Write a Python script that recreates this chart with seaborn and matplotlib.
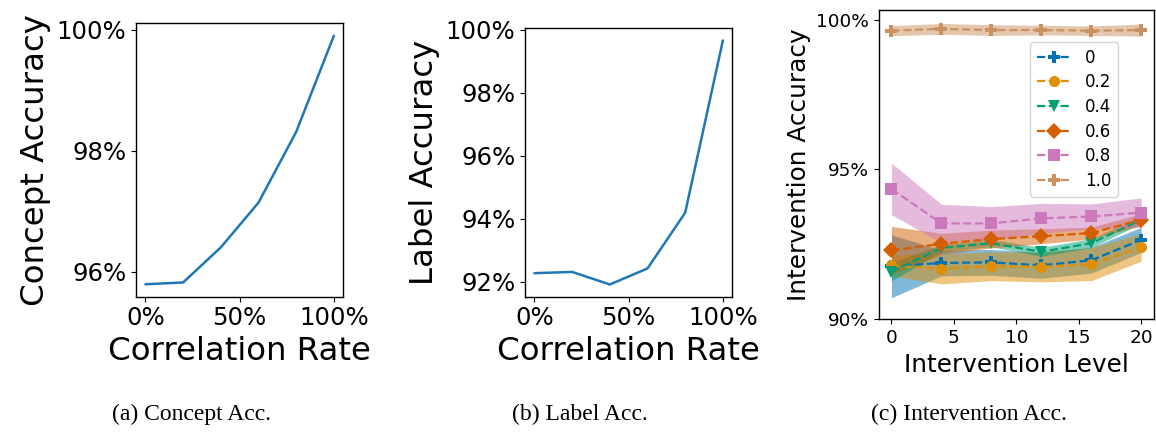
import numpy as np
import pandas as pd
import matplotlib
matplotlib.use("Agg")
import matplotlib.pyplot as plt
from matplotlib.ticker import PercentFormatter, MultipleLocator, FixedLocator
import seaborn as sns

# ---------------- data ----------------
corr_rates = [0.0, 0.2, 0.4, 0.6, 0.8, 1.0]
concept_acc = [95.79, 95.82, 96.40, 97.14, 98.31, 99.90]
label_acc = [92.27, 92.31, 91.91, 92.42, 94.19, 99.66]

interv_levels = [0, 4, 8, 12, 16, 20]
series_names = ["0", "0.2", "0.4", "0.6", "0.8", "1.0"]
mean_0 = [91.77, 91.88, 91.90, 91.80, 91.97, 92.65]
mean_02 = [91.80, 91.68, 91.77, 91.75, 91.84, 92.40]
mean_04 = [91.58, 92.38, 92.54, 92.25, 92.54, 93.32]
mean_06 = [92.30, 92.52, 92.68, 92.77, 92.88, 93.32]
mean_08 = [94.35, 93.20, 93.20, 93.37, 93.43, 93.56]
mean_10 = [99.63, 99.69, 99.65, 99.65, 99.63, 99.65]
std_0 = [1.05, 0.43, 0.43, 0.43, 0.43, 0.42]
std_02 = [0.35, 0.50, 0.48, 0.50, 0.55, 0.46]
std_04 = [0.30, 0.12, 0.12, 0.15, 0.15, 0.12]
std_06 = [0.80, 0.35, 0.30, 0.25, 0.20, 0.20]
std_08 = [0.86, 0.64, 0.56, 0.50, 0.42, 0.49]
std_10 = [0.17, 0.18, 0.18, 0.16, 0.16, 0.20]

panel_captions = ["(a) Concept Acc.", "(b) Label Acc.", "(c) Intervention Acc."]

# ---------------- style ----------------
sns.set_style("ticks")
plt.rcParams["font.family"] = ["DejaVu Sans"]
plt.rcParams["text.color"] = "black"
plt.rcParams["axes.labelcolor"] = "black"
plt.rcParams["xtick.color"] = "black"
plt.rcParams["ytick.color"] = "black"
plt.rcParams["axes.edgecolor"] = "black"

W, H = 1156, 432
fig = plt.figure(figsize=(W / 100, H / 100), dpi=100)

def box(l, t, r, b):
    return [l / W, 1 - b / H, (r - l) / W, (b - t) / H]

C_L, C_T, C_R, C_B = 879, 9.7, 1153.7, 319.3
ax_a = fig.add_axes(box(136, 23.3, 343.3, 296.7))
ax_b = fig.add_axes(box(525, 28.3, 732.3, 296.7))
ax_c = fig.add_axes(box(C_L, C_T, C_R, C_B))

line_color = "#1f77b4"
big_label = 23.3
big_tick = 17.6

# panel a
sns.lineplot(x=corr_rates, y=concept_acc, ax=ax_a, color=line_color, linewidth=1.8)
ax_a.set_xlabel("Correlation Rate", fontsize=big_label)
ax_a.set_ylabel("Concept Accuracy", fontsize=big_label)
ax_a.yaxis.set_major_locator(MultipleLocator(2))
ax_a.yaxis.set_major_formatter(PercentFormatter(xmax=100, decimals=0))

# panel b
sns.lineplot(x=corr_rates, y=label_acc, ax=ax_b, color=line_color, linewidth=1.8)
ax_b.set_xlabel("Correlation Rate", fontsize=big_label)
ax_b.set_ylabel("Label Accuracy", fontsize=big_label)
ax_b.yaxis.set_major_locator(MultipleLocator(2))
ax_b.yaxis.set_major_formatter(PercentFormatter(xmax=100, decimals=0))

for ax in (ax_a, ax_b):
    ax.xaxis.set_major_locator(FixedLocator([0, 0.5, 1.0]))
    ax.xaxis.set_major_formatter(PercentFormatter(xmax=1, decimals=0))
    ax.tick_params(labelsize=big_tick)
    ax.set_xlim(-0.05, 1.05)

# panel c
palette = sns.color_palette("colorblind")
means = [mean_0, mean_02, mean_04, mean_06, mean_08, mean_10]
stds = [std_0, std_02, std_04, std_06, std_08, std_10]
markers = ["P", "o", "v", "D", "s", "P"]
color_idx = [0, 1, 2, 3, 4, 5]
for name, m, s, mk, ci in zip(series_names, means, stds, markers, color_idx):
    c = palette[ci]
    m = np.array(m)
    s = np.array(s)
    ax_c.fill_between(interv_levels, m - s, m + s, color=c, alpha=0.5, linewidth=0)
    sns.lineplot(x=interv_levels, y=m, ax=ax_c, color=c, marker=mk, markersize=8,
                 linestyle="--", linewidth=1.6, label=name, markeredgewidth=0)

small_label = 17.8
small_tick = 13.3
ax_c.set_xlabel("Intervention Level", fontsize=small_label)
ax_c.set_ylabel("Intervention Accuracy", fontsize=small_label)
ax_c.set_ylim(90, 100.33)
ax_c.set_xlim(-1, 21)
ax_c.xaxis.set_major_locator(MultipleLocator(5))
ax_c.yaxis.set_major_locator(MultipleLocator(5))
ax_c.yaxis.set_major_formatter(PercentFormatter(xmax=100, decimals=0))
ax_c.tick_params(labelsize=small_tick)
leg = ax_c.legend(fontsize=12, loc="upper right",
                  bbox_to_anchor=((1118 - C_L) / (C_R - C_L), 1 - (42 - C_T) / (C_B - C_T)),
                  borderaxespad=0, frameon=True, fancybox=True, framealpha=0.8,
                  edgecolor="#cccccc", handlelength=2.1, borderpad=0.4,
                  labelspacing=0.4, handletextpad=0.8)

for ax in (ax_a, ax_b, ax_c):
    for sp in ax.spines.values():
        sp.set_visible(True)
        sp.set_linewidth(1.0)

# captions
caption_x = [191, 580, 969]
for cx, cap in zip(caption_x, panel_captions):
    fig.text(cx / W, 1 - 414 / H, cap, ha="center", va="center",
             fontsize=17, family=["Liberation Serif", "DejaVu Serif"])

fig.savefig("out.png", dpi=100)
